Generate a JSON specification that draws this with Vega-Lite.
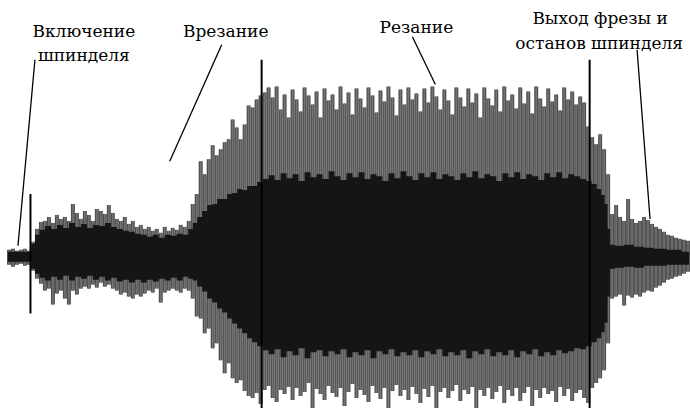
{
  "$schema": "https://vega.github.io/schema/vega-lite/v6.json",
  "width": 690,
  "height": 410,
  "padding": 0,
  "autosize": {"type": "fit", "contains": "padding"},
  "background": "white",
  "config": {"view": {"stroke": null}},
  "datasets": {
    "outer": [
      {"t":9,"hi":9,"lo":-6},{"t":13,"hi":10,"lo":-8},{"t":17,"hi":8,"lo":-6},{"t":21,"hi":9,"lo":-5},{"t":25,"hi":10,"lo":-7},{"t":29,"hi":8,"lo":-6},
      {"t":33,"hi":17,"lo":-12},{"t":37,"hi":30,"lo":-20},{"t":41,"hi":37,"lo":-25},{"t":45,"hi":38,"lo":-32},{"t":49,"hi":42,"lo":-30},{"t":53,"hi":36,"lo":-46},
      {"t":57,"hi":44,"lo":-35},{"t":61,"hi":40,"lo":-32},{"t":65,"hi":42,"lo":-40},{"t":69,"hi":38,"lo":-46},{"t":73,"hi":55,"lo":-32},{"t":77,"hi":46,"lo":-36},
      {"t":81,"hi":40,"lo":-30},{"t":85,"hi":48,"lo":-28},{"t":89,"hi":44,"lo":-30},{"t":93,"hi":38,"lo":-26},{"t":97,"hi":50,"lo":-29},{"t":101,"hi":48,"lo":-24},
      {"t":105,"hi":45,"lo":-28},{"t":109,"hi":54,"lo":-26},{"t":113,"hi":46,"lo":-30},{"t":117,"hi":40,"lo":-32},{"t":121,"hi":38,"lo":-36},{"t":125,"hi":42,"lo":-34},
      {"t":129,"hi":35,"lo":-38},{"t":133,"hi":38,"lo":-40},{"t":137,"hi":32,"lo":-36},{"t":141,"hi":34,"lo":-38},{"t":145,"hi":30,"lo":-35},{"t":149,"hi":32,"lo":-32},
      {"t":153,"hi":28,"lo":-34},{"t":157,"hi":30,"lo":-30},{"t":161,"hi":26,"lo":-44},{"t":165,"hi":32,"lo":-34},{"t":169,"hi":28,"lo":-32},{"t":173,"hi":31,"lo":-30},
      {"t":177,"hi":29,"lo":-32},{"t":181,"hi":34,"lo":-34},{"t":185,"hi":32,"lo":-30},{"t":189,"hi":38,"lo":-32},{"t":193,"hi":55,"lo":-40},{"t":197,"hi":65,"lo":-58},
      {"t":201,"hi":98,"lo":-60},{"t":205,"hi":85,"lo":-75},{"t":209,"hi":100,"lo":-70},{"t":213,"hi":114,"lo":-90},{"t":217,"hi":104,"lo":-85},{"t":221,"hi":110,"lo":-102},
      {"t":225,"hi":117,"lo":-115},{"t":229,"hi":120,"lo":-105},{"t":233,"hi":140,"lo":-120},{"t":237,"hi":132,"lo":-125},{"t":241,"hi":120,"lo":-122},{"t":245,"hi":135,"lo":-133},
      {"t":249,"hi":154,"lo":-138},{"t":253,"hi":152,"lo":-140},{"t":257,"hi":160,"lo":-135},{"t":261,"hi":164,"lo":-146},{"t":265,"hi":167,"lo":-132},{"t":269,"hi":172,"lo":-128},
      {"t":273,"hi":162,"lo":-140},{"t":277,"hi":173,"lo":-144},{"t":281,"hi":150,"lo":-132},{"t":285,"hi":165,"lo":-136},{"t":289,"hi":142,"lo":-129},{"t":293,"hi":170,"lo":-142},
      {"t":297,"hi":160,"lo":-130},{"t":301,"hi":148,"lo":-138},{"t":305,"hi":172,"lo":-134},{"t":309,"hi":164,"lo":-125},{"t":313,"hi":155,"lo":-150},{"t":317,"hi":168,"lo":-131},
      {"t":321,"hi":142,"lo":-136},{"t":325,"hi":171,"lo":-142},{"t":329,"hi":159,"lo":-128},{"t":333,"hi":165,"lo":-135},{"t":337,"hi":150,"lo":-139},{"t":341,"hi":173,"lo":-130},
      {"t":345,"hi":156,"lo":-148},{"t":349,"hi":167,"lo":-134},{"t":353,"hi":145,"lo":-126},{"t":357,"hi":171,"lo":-140},{"t":361,"hi":161,"lo":-132},{"t":365,"hi":152,"lo":-137},
      {"t":369,"hi":172,"lo":-144},{"t":373,"hi":164,"lo":-128},{"t":377,"hi":147,"lo":-135},{"t":381,"hi":169,"lo":-141},{"t":385,"hi":158,"lo":-130},{"t":389,"hi":173,"lo":-150},
      {"t":393,"hi":162,"lo":-133},{"t":397,"hi":144,"lo":-127},{"t":401,"hi":170,"lo":-138},{"t":405,"hi":155,"lo":-132},{"t":409,"hi":172,"lo":-142},{"t":413,"hi":160,"lo":-129},
      {"t":417,"hi":166,"lo":-136},{"t":421,"hi":148,"lo":-145},{"t":425,"hi":171,"lo":-131},{"t":429,"hi":157,"lo":-139},{"t":433,"hi":173,"lo":-128},{"t":437,"hi":163,"lo":-150},
      {"t":441,"hi":150,"lo":-134},{"t":445,"hi":170,"lo":-130},{"t":449,"hi":159,"lo":-140},{"t":453,"hi":145,"lo":-133},{"t":457,"hi":172,"lo":-127},{"t":461,"hi":162,"lo":-143},
      {"t":465,"hi":153,"lo":-132},{"t":469,"hi":171,"lo":-136},{"t":473,"hi":157,"lo":-129},{"t":477,"hi":166,"lo":-150},{"t":481,"hi":142,"lo":-132},{"t":485,"hi":172,"lo":-138},
      {"t":489,"hi":161,"lo":-130},{"t":493,"hi":154,"lo":-141},{"t":497,"hi":170,"lo":-134},{"t":501,"hi":148,"lo":-128},{"t":505,"hi":173,"lo":-145},{"t":509,"hi":159,"lo":-132},
      {"t":513,"hi":165,"lo":-138},{"t":517,"hi":151,"lo":-130},{"t":521,"hi":172,"lo":-143},{"t":525,"hi":156,"lo":-135},{"t":529,"hi":168,"lo":-129},{"t":533,"hi":146,"lo":-148},
      {"t":537,"hi":173,"lo":-132},{"t":541,"hi":161,"lo":-140},{"t":545,"hi":153,"lo":-130},{"t":549,"hi":171,"lo":-136},{"t":553,"hi":158,"lo":-133},{"t":557,"hi":165,"lo":-144},
      {"t":561,"hi":149,"lo":-129},{"t":565,"hi":172,"lo":-138},{"t":569,"hi":160,"lo":-131},{"t":573,"hi":168,"lo":-143},{"t":577,"hi":155,"lo":-135},{"t":581,"hi":163,"lo":-132},
      {"t":585,"hi":157,"lo":-140},{"t":589,"hi":133,"lo":-145},{"t":593,"hi":122,"lo":-130},{"t":597,"hi":115,"lo":-125},{"t":601,"hi":125,"lo":-120},{"t":605,"hi":110,"lo":-112},
      {"t":609,"hi":85,"lo":-85},{"t":613,"hi":45,"lo":-40},{"t":617,"hi":54,"lo":-38},{"t":621,"hi":42,"lo":-36},{"t":625,"hi":38,"lo":-47},{"t":629,"hi":60,"lo":-37},
      {"t":633,"hi":40,"lo":-39},{"t":637,"hi":36,"lo":-36},{"t":641,"hi":38,"lo":-38},{"t":645,"hi":42,"lo":-34},{"t":649,"hi":39,"lo":-32},{"t":653,"hi":35,"lo":-33},
      {"t":657,"hi":32,"lo":-29},{"t":661,"hi":30,"lo":-27},{"t":665,"hi":27,"lo":-24},{"t":669,"hi":24,"lo":-21},{"t":673,"hi":23,"lo":-20},{"t":677,"hi":21,"lo":-18},
      {"t":681,"hi":20,"lo":-17},{"t":685,"hi":19,"lo":-15},{"t":689,"hi":18,"lo":-13}
    ],
    "inner": [
      {"t":8,"hi":7,"lo":-3},{"t":30,"hi":7,"lo":-3},{"t":33,"hi":15,"lo":-10},{"t":37,"hi":24,"lo":-15},{"t":42,"hi":29,"lo":-19},{"t":48,"hi":33,"lo":-22},{"t":54,"hi":30,"lo":-18},
      {"t":60,"hi":34,"lo":-21},{"t":66,"hi":31,"lo":-17},{"t":72,"hi":36,"lo":-22},{"t":78,"hi":32,"lo":-18},{"t":84,"hi":35,"lo":-20},{"t":90,"hi":31,"lo":-17},
      {"t":96,"hi":34,"lo":-21},{"t":102,"hi":33,"lo":-18},{"t":108,"hi":36,"lo":-22},{"t":114,"hi":32,"lo":-19},{"t":120,"hi":30,"lo":-23},{"t":126,"hi":28,"lo":-21},
      {"t":132,"hi":27,"lo":-24},{"t":138,"hi":25,"lo":-21},{"t":144,"hi":24,"lo":-24},{"t":150,"hi":22,"lo":-21},{"t":156,"hi":24,"lo":-23},{"t":162,"hi":21,"lo":-20},
      {"t":168,"hi":24,"lo":-22},{"t":174,"hi":23,"lo":-19},{"t":180,"hi":25,"lo":-22},{"t":186,"hi":24,"lo":-18},{"t":191,"hi":30,"lo":-20},{"t":195,"hi":36,"lo":-22},
      {"t":200,"hi":42,"lo":-28},{"t":205,"hi":48,"lo":-33},{"t":210,"hi":54,"lo":-40},{"t":215,"hi":55,"lo":-44},{"t":220,"hi":60,"lo":-50},{"t":225,"hi":60,"lo":-54},
      {"t":230,"hi":65,"lo":-60},{"t":235,"hi":66,"lo":-65},{"t":240,"hi":70,"lo":-70},{"t":245,"hi":69,"lo":-75},{"t":250,"hi":73,"lo":-80},{"t":255,"hi":73,"lo":-84},
      {"t":260,"hi":77,"lo":-88},{"t":266,"hi":80,"lo":-92},{"t":272,"hi":84,"lo":-96},{"t":278,"hi":79,"lo":-91},{"t":284,"hi":86,"lo":-99},{"t":290,"hi":81,"lo":-93},
      {"t":296,"hi":85,"lo":-97},{"t":302,"hi":78,"lo":-90},{"t":308,"hi":87,"lo":-100},{"t":314,"hi":82,"lo":-94},{"t":320,"hi":85,"lo":-92},{"t":326,"hi":80,"lo":-98},
      {"t":332,"hi":88,"lo":-93},{"t":338,"hi":83,"lo":-96},{"t":344,"hi":79,"lo":-91},{"t":350,"hi":86,"lo":-99},{"t":356,"hi":82,"lo":-94},{"t":362,"hi":87,"lo":-97},
      {"t":368,"hi":80,"lo":-92},{"t":374,"hi":85,"lo":-100},{"t":380,"hi":83,"lo":-93},{"t":386,"hi":78,"lo":-96},{"t":392,"hi":86,"lo":-91},{"t":398,"hi":81,"lo":-98},
      {"t":404,"hi":88,"lo":-94},{"t":410,"hi":83,"lo":-97},{"t":416,"hi":79,"lo":-92},{"t":422,"hi":86,"lo":-99},{"t":428,"hi":82,"lo":-93},{"t":434,"hi":87,"lo":-96},
      {"t":440,"hi":80,"lo":-91},{"t":446,"hi":85,"lo":-98},{"t":452,"hi":83,"lo":-94},{"t":458,"hi":79,"lo":-97},{"t":464,"hi":86,"lo":-92},{"t":470,"hi":82,"lo":-100},
      {"t":476,"hi":88,"lo":-93},{"t":482,"hi":81,"lo":-96},{"t":488,"hi":85,"lo":-91},{"t":494,"hi":83,"lo":-98},{"t":500,"hi":78,"lo":-94},{"t":506,"hi":86,"lo":-97},
      {"t":512,"hi":82,"lo":-92},{"t":518,"hi":87,"lo":-99},{"t":524,"hi":80,"lo":-93},{"t":530,"hi":85,"lo":-96},{"t":536,"hi":83,"lo":-91},{"t":542,"hi":79,"lo":-98},
      {"t":548,"hi":86,"lo":-94},{"t":554,"hi":82,"lo":-97},{"t":560,"hi":87,"lo":-92},{"t":566,"hi":81,"lo":-95},{"t":572,"hi":85,"lo":-93},{"t":578,"hi":83,"lo":-90},
      {"t":584,"hi":80,"lo":-91},{"t":590,"hi":78,"lo":-88},{"t":595,"hi":75,"lo":-84},{"t":600,"hi":70,"lo":-80},{"t":604,"hi":64,"lo":-74},{"t":607,"hi":55,"lo":-64},
      {"t":610,"hi":30,"lo":-38},{"t":612,"hi":14,"lo":-10},{"t":620,"hi":13,"lo":-9},{"t":630,"hi":14,"lo":-8},{"t":640,"hi":12,"lo":-9},{"t":650,"hi":11,"lo":-7},
      {"t":660,"hi":10,"lo":-7},{"t":675,"hi":9,"lo":-6},{"t":690,"hi":7,"lo":-6}
    ],
    "markers": [
      {"t":30.5,"a1":65,"a2":-55},{"t":262,"a1":200,"a2":-150},{"t":590.5,"a1":200,"a2":-150}
    ],
    "leaders": [
      {"t1":35,"a1":200,"t2":18,"a2":13},
      {"t1":222,"a1":215,"t2":170,"a2":98},
      {"t1":413,"a1":223,"t2":436,"a2":175},
      {"t1":638,"a1":210,"t2":651,"a2":40}
    ],
    "labels": [
      {"t":84,"a":223,"label":"Включение"},
      {"t":84,"a":199,"label":"шпинделя"},
      {"t":226,"a":223,"label":"Врезание"},
      {"t":417,"a":227,"label":"Резание"},
      {"t":601,"a":236,"label":"Выход фрезы и"},
      {"t":600,"a":211,"label":"останов шпинделя"}
    ]
  },
  "layer": [
    {
      "data": {"name": "outer"},
      "mark": {"type": "rule", "color": "#505050", "strokeWidth": 4},
      "encoding": {
        "x": {"field": "t", "type": "quantitative", "scale": {"domain": [0, 690], "nice": false, "zero": false}, "axis": null},
        "y": {"field": "hi", "type": "quantitative", "scale": {"domain": [-150, 260], "nice": false, "zero": false}, "axis": null},
        "y2": {"field": "lo"}
      }
    },
    {
      "data": {"name": "outer"},
      "mark": {"type": "rule", "color": "#747474", "strokeWidth": 1.5},
      "encoding": {
        "x": {"field": "t", "type": "quantitative"},
        "y": {"field": "hi", "type": "quantitative"},
        "y2": {"field": "lo"}
      }
    },
    {
      "data": {"name": "inner"},
      "mark": {"type": "area", "color": "#151515", "opacity": 1, "interpolate": "step"},
      "encoding": {
        "x": {"field": "t", "type": "quantitative"},
        "y": {"field": "hi", "type": "quantitative"},
        "y2": {"field": "lo"}
      }
    },
    {
      "data": {"name": "markers"},
      "mark": {"type": "rule", "color": "#000000", "strokeWidth": 2},
      "encoding": {
        "x": {"field": "t", "type": "quantitative"},
        "y": {"field": "a1", "type": "quantitative"},
        "y2": {"field": "a2"}
      }
    },
    {
      "data": {"name": "leaders"},
      "mark": {"type": "rule", "color": "#000000", "strokeWidth": 1.3},
      "encoding": {
        "x": {"field": "t1", "type": "quantitative"},
        "x2": {"field": "t2"},
        "y": {"field": "a1", "type": "quantitative"},
        "y2": {"field": "a2"}
      }
    },
    {
      "data": {"name": "labels"},
      "mark": {"type": "text", "font": "DejaVu Serif", "fontSize": 17, "color": "#000000", "align": "center", "baseline": "alphabetic"},
      "encoding": {
        "x": {"field": "t", "type": "quantitative"},
        "y": {"field": "a", "type": "quantitative"},
        "text": {"field": "label"}
      }
    }
  ]
}
